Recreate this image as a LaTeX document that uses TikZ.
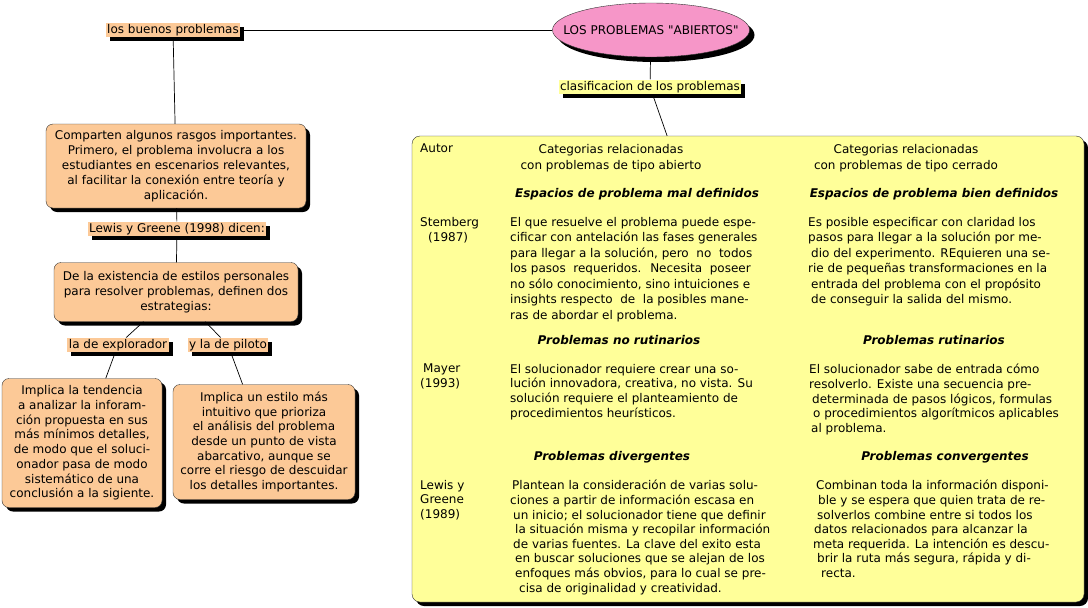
\documentclass[tikz,border=0pt]{standalone}
\usepackage{fontspec}
\setmainfont{DejaVu Sans}
\usetikzlibrary{shapes.geometric,shadows,positioning}
\definecolor{durazno}{RGB}{252,201,151}
\definecolor{amarillo}{RGB}{255,255,153}
\definecolor{rosa}{RGB}{246,150,200}
\newcommand{\lpad}[1]{\hspace*{#1pt}}

\begin{document}
\begin{tikzpicture}[x=1pt,y=-1pt,
  sombra/.style={drop shadow={shadow xshift=4pt,shadow yshift=-4pt,fill=black,opacity=1}},
  enlace/.style={fill=durazno, inner sep=1.5pt, sombra, font=\fontsize{12}{15}\selectfont},
  concepto/.style={draw=black!80, fill=durazno, rounded corners=7pt, sombra, align=center,
    inner sep=0pt, font=\fontsize{12}{15}\selectfont},
  texto/.style={anchor=north west, inner sep=0pt, align=left, font=\fontsize{12}{15.5}\selectfont},
  compacto/.style={texto, font=\fontsize{12}{14.6}\selectfont},
  titulo/.style={inner sep=0pt, font=\fontsize{12}{15}\selectfont\bfseries\itshape}]
\fill[white] (0,0) rectangle (1088,608);
\useasboundingbox (0,0) rectangle (1088,608);

% mapa de la izquierda
\node[enlace] (buenos) at (173,30) {los buenos problemas};
\node[ellipse, draw=black!80, fill=rosa, drop shadow={shadow xshift=5pt,shadow yshift=-5pt,fill=black,opacity=1},
  minimum width=197pt, minimum height=54pt, inner sep=0pt] (abiertos) at (651,30) {};
\node[font=\fontsize{12}{14}\selectfont, inner sep=0pt] (abiertostxt) at (abiertos)
  {LOS PROBLEMAS \textquotedbl ABIERTOS\textquotedbl};
\node[enlace, fill=amarillo] (clasif) at (650,87) {clasificacion de los problemas};
\node[concepto, minimum width=260pt, minimum height=84pt] (rasgos) at (176,166)
  {Comparten algunos rasgos importantes.\\ Primero, el problema involucra a los\\
   estudiantes en escenarios relevantes,\\ al facilitar la conexión entre teoría y\\ aplicación.};
\node[enlace] (lewis) at (177,229) {Lewis y Greene (1998) dicen:};
\node[concepto, minimum width=244pt, minimum height=59pt] (estilos) at (176,292)
  {De la existencia de estilos personales\\ para resolver problemas, definen dos\\ estrategias:};
\node[enlace] (explorador) at (118,345) {la de explorador};
\node[enlace] (piloto) at (228,345) {y la de piloto};
\node[concepto, minimum width=160pt, minimum height=129pt, font=\fontsize{12}{14.7}\selectfont] (tendencia) at (82,443)
  {Implica la tendencia\\ a analizar la inforam-\\ ción propuesta en sus\\ más mínimos detalles,\\
   de modo que el soluci-\\ onador pasa de modo\\ sistemático de una\\ conclusión a la sigiente.};
\node[concepto, minimum width=182pt, minimum height=115pt, font=\fontsize{12}{14.7}\selectfont] (intuitivo) at (264,442)
  {Implica un estilo más\\ intuitivo que prioriza\\ el análisis del problema\\ desde un punto de vista\\
   abarcativo, aunque se\\ corre el riesgo de descuidar\\ los detalles importantes.};

% cuadro de clasificacion
\node[draw=black!80, fill=amarillo, rounded corners=8pt, sombra, minimum width=672pt,
  minimum height=466pt] (tabla) at (748,369) {};

\foreach \u/\v in {buenos/abiertos,abiertos/clasif,clasif/tabla,buenos/rasgos,rasgos/lewis} \draw[line width=0.7pt] (\u) -- (\v);
\foreach \u/\v in {lewis/estilos,estilos/explorador,estilos/piloto,explorador/tendencia,piloto/intuitivo} \draw[line width=0.7pt] (\u) -- (\v);

\node[texto] (autor) at (420,144) {Autor};
\node[texto, anchor=center, align=center] (catab) at (611,158) {Categorias relacionadas\\ con problemas de tipo abierto};
\node[texto, anchor=center, align=center] (catce) at (906,158) {Categorias relacionadas\\ con problemas de tipo cerrado};
\node[titulo] (maldef) at (637,194) {Espacios de problema mal definidos};
\node[titulo] (biendef) at (934,194) {Espacios de problema bien definidos};

\node[texto] (stemberg) at (420,217) {Stemberg\\ \lpad{8}(1987)};
\node[texto] (stabierto) at (510,217)
  {El que resuelve el problema puede espe-\\ cificar con antelación las fases generales\\
   para llegar a la solución, pero~ no~ todos\\ los pasos~ requeridos.~ Necesita~ poseer\\
   no sólo conocimiento, sino intuiciones e\\ insights respecto~ de~ la posibles mane-\\
   ras de abordar el problema.};
\node[texto] (stcerrado) at (808,217)
  {Es posible especificar con claridad los\\ pasos para llegar a la solución por me-\\
   \lpad{3}dio del experimento. REquieren una se-\\ rie de pequeñas transformaciones en la\\
   \lpad{3}entrada del problema con el propósito\\ \lpad{3}de conseguir la salida del mismo.};

\node[titulo] (norut) at (619,340) {Problemas no rutinarios};
\node[titulo] (rut) at (934,340) {Problemas rutinarios};

\node[compacto] (mayer) at (420,364) {\lpad{3}Mayer\\ (1993)};
\node[compacto] (maabierto) at (510,364)
  {El solucionador requiere crear una so-\\ lución innovadora, creativa, no vista. Su\\
   solución requiere el planteamiento de\\ procedimientos heurísticos.};
\node[compacto] (macerrado) at (809,364)
  {El solucionador sabe de entrada cómo\\ resolverlo. Existe una secuencia pre-\\
   \lpad{3}determinada de pasos lógicos, formulas\\ \lpad{4}o procedimientos algorítmicos aplicables\\
   \lpad{2}al problema.};

\node[titulo] (diverg) at (612,457) {Problemas divergentes};
\node[titulo] (converg) at (945,457) {Problemas convergentes};

\node[compacto] (greene) at (420,480) {Lewis y\\ Greene\\ (1989)};
\node[compacto] (grabierto) at (510,480)
  {\lpad{2}Plantean la consideración de varias solu-\\ ciones a partir de información escasa en\\
   \lpad{3}un inicio; el solucionador tiene que definir\\ \lpad{5}la situación misma y recopilar información\\
   \lpad{3}de varias fuentes. La clave del exito esta\\ \lpad{5}en buscar soluciones que se alejan de los\\
   \lpad{5}enfoques más obvios, para lo cual se pre-\\ \lpad{9}cisa de originalidad y creatividad.};
\node[compacto] (grcerrado) at (813,480)
  {\lpad{3}Combinan toda la información disponi-\\ \lpad{5}ble y se espera que quien trata de re-\\
   \lpad{4}solverlos combine entre si todos los\\ \lpad{1}datos relacionados para alcanzar la\\
   meta requerida. La intención es descu-\\ \lpad{4}brir la ruta más segura, rápida y di-\\
   \lpad{8}recta.};
\end{tikzpicture}
\end{document}
